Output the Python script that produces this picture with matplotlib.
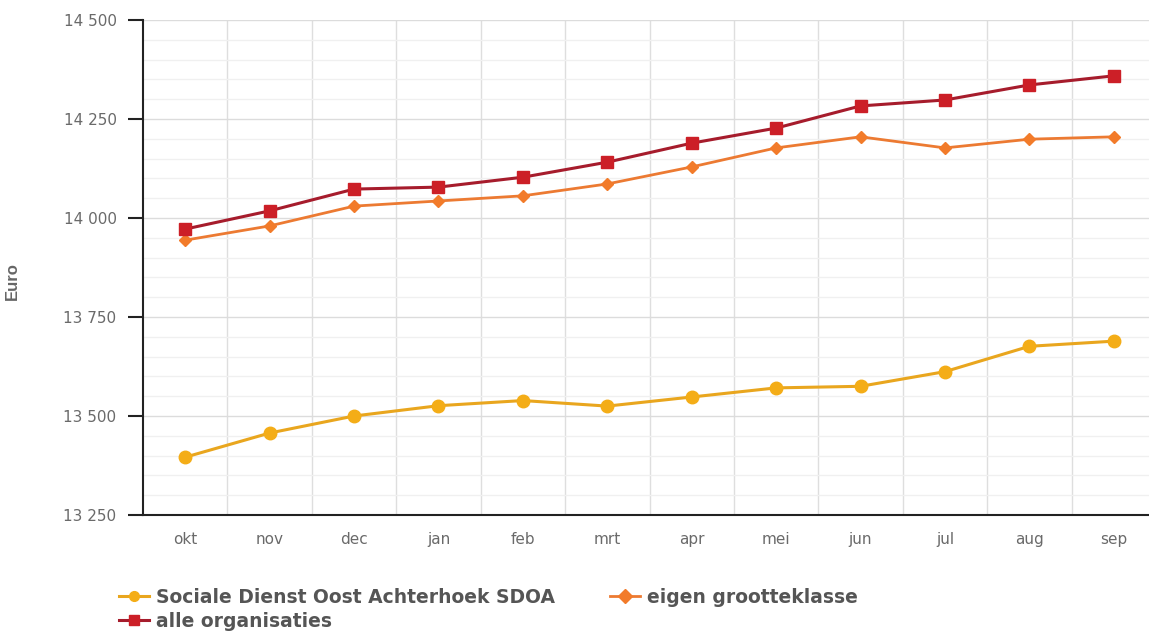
import matplotlib
matplotlib.use("Agg")
import matplotlib.pyplot as plt
from matplotlib.ticker import FixedLocator, FuncFormatter, MultipleLocator

months = ["okt", "nov", "dec", "jan", "feb", "mrt", "apr", "mei", "jun", "jul", "aug", "sep"]
sdoa = [13396, 13457, 13500, 13526, 13539, 13525, 13548, 13571, 13575, 13612, 13676, 13689]
eigen = [13944, 13980, 14030, 14043, 14056, 14086, 14129, 14177, 14205, 14177, 14199, 14205]
alle = [13972, 14018, 14073, 14078, 14103, 14141, 14189, 14227, 14283, 14298, 14336, 14359]
series_names = ["Sociale Dienst Oost Achterhoek SDOA", "eigen grootteklasse", "alle organisaties"]

plt.rcParams['font.family'] = ['DejaVu Sans']

fig = plt.figure(figsize=(11.49, 6.37), dpi=100)
ax = fig.add_axes([143/1149, 1-515/637, (1156-143)/1149, (515-20)/637])

x = list(range(len(months)))
h1, = ax.plot(x, sdoa, color='#e9a61e', lw=2.2, marker='o', ms=9,
              mfc='#f4ad17', mec='#f4ad17', label=series_names[0], zorder=3)
h2, = ax.plot(x, eigen, color='#ec7a32', lw=2.0, marker='D', ms=6.5,
              mfc='#f27b2a', mec='#f27b2a', label=series_names[1], zorder=3)
h3, = ax.plot(x, alle, color='#a61c2c', lw=2.2, marker='s', ms=9,
              mfc='#cc1f27', mec='#cc1f27', label=series_names[2], zorder=4)

ax.set_xlim(-0.5, len(months) - 0.5)
ax.set_ylim(13250, 14500)
ax.yaxis.set_major_locator(MultipleLocator(250))
ax.yaxis.set_minor_locator(MultipleLocator(50))
ax.yaxis.set_major_formatter(FuncFormatter(lambda v, p: f"{int(v):,}".replace(",", " ")))
ax.set_xticks(x)
ax.set_xticklabels(months)
ax.xaxis.set_minor_locator(FixedLocator([i + 0.5 for i in range(len(months) - 1)]))

ax.grid(True, which='major', axis='y', color='#dcdcdc', lw=1)
ax.grid(True, which='minor', axis='y', color='#f0f0f0', lw=1)
ax.grid(True, which='minor', axis='x', color='#dedede', lw=1)
ax.set_axisbelow(True)

for s in ['top', 'right']:
    ax.spines[s].set_visible(False)
ax.spines['left'].set_color('#222222')
ax.spines['bottom'].set_color('#222222')
ax.spines['left'].set_linewidth(1.5)
ax.spines['bottom'].set_linewidth(1.5)

ax.tick_params(axis='y', which='major', length=11, width=1.5, color='#222222',
               labelsize=11, labelcolor='#6a6a6a', pad=8)
ax.tick_params(axis='y', which='minor', length=0)
ax.tick_params(axis='x', which='both', length=0, labelsize=11, labelcolor='#6a6a6a', pad=12)

ax.set_ylabel("Euro", fontsize=12, fontweight='bold', color='#666666',
              family=['Liberation Sans', 'DejaVu Sans'])
ax.yaxis.set_label_coords((20 - 143) / 1013, (515 - 281) / 495)

leg = fig.legend(handles=[h1, h3, h2], labels=[series_names[0], series_names[2], series_names[1]],
                 ncol=2, loc='upper left', bbox_to_anchor=(119/1149, 1-588/637),
                 frameon=False, handlelength=1.6, handletextpad=0.4, columnspacing=2.9,
                 labelspacing=0.25, borderaxespad=0, borderpad=0,
                 prop={'weight': 'bold', 'size': 13.5})
for t in leg.get_texts():
    t.set_color('#555555')
for hl in leg.legend_handles:
    hl.set_markersize(7)

fig.savefig("out.png", dpi=100)
